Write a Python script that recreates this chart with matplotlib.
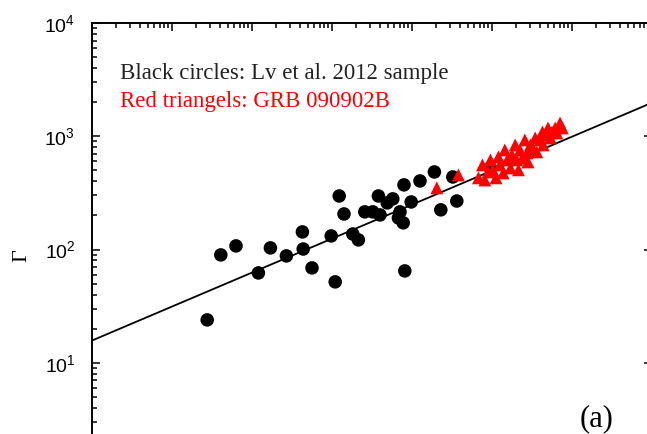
import numpy as np
import matplotlib
matplotlib.use("Agg")
import matplotlib.pyplot as plt
from matplotlib.ticker import LogLocator, NullFormatter, FuncFormatter

plt.rcParams['font.family'] = ['Liberation Sans', 'DejaVu Sans']
plt.rcParams['mathtext.fontset'] = 'custom'
plt.rcParams['mathtext.rm'] = 'Liberation Sans'
plt.rcParams['mathtext.it'] = 'Liberation Sans:italic'
plt.rcParams['mathtext.bf'] = 'Liberation Sans:bold'

# Lv et al. 2012 sample (black circles): log10 L_iso and Lorentz factor
lv_logL = [49.44, 49.61, 49.80, 50.08, 50.23, 50.43, 50.63, 50.64, 50.75, 50.99,
           51.04, 51.09, 51.15, 51.26, 51.33, 51.41, 51.51, 51.58, 51.60, 51.69,
           51.76, 51.85, 51.83, 51.89, 51.90, 51.99, 51.91, 52.10, 52.28, 52.36,
           52.56, 52.51, 52.98]
lv_gamma = [23.9, 89.6, 107.6, 62.1, 103.3, 87.8, 143, 101, 68.8, 131.8,
            51.8, 297, 206, 137, 121.6, 215, 215, 297, 202, 258,
            280, 215, 190, 172, 372, 263, 64.7, 403, 484, 224,
            268, 437, 525]

# GRB 090902B (red triangles)
grb_logL = [52.31, 52.58, 52.83, 52.88, 52.91, 52.95, 52.98, 53.01, 53.05, 53.08,
            53.10, 53.14, 53.16, 53.19, 53.23, 53.25, 53.29, 53.31, 53.33, 53.35,
            53.38, 53.41, 53.44, 53.45, 53.48, 53.51, 53.54, 53.56, 53.60, 53.63,
            53.64, 53.68, 53.70, 53.73, 53.75, 53.79, 53.81, 53.85, 53.88]
grb_gamma = [350, 455, 429, 558, 411, 484, 618, 505, 429, 657,
             558, 474, 757, 618, 525, 684, 838, 618, 505, 757,
             643, 927, 713, 593, 838, 788, 966, 727, 927, 1091,
             838, 1026, 1184, 966, 1091, 1184, 1069, 1310, 1184]

# Fit: Gamma = A * (L / 1e52)^B
fit_A = 249.0
fit_B = 0.30

x_min, x_max = 1e48, 1e55
y_min, y_max = 1e0, 1e4

fig = plt.figure(figsize=(6.47, 4.34), dpi=100)
W, H = 647, 434
left, right, top, bottom = 92, 652, 23, 476
ax = fig.add_axes([left / W, (H - bottom) / H, (right - left) / W, (bottom - top) / H])

ax.set_xscale('log')
ax.set_yscale('log')
ax.set_xlim(x_min, x_max)
ax.set_ylim(y_min, y_max)

Lfit = np.logspace(np.log10(x_min), np.log10(x_max), 200)
ax.plot(Lfit, fit_A * (Lfit / 1e52) ** fit_B, color='black', lw=1.3, zorder=2)

ax.scatter(10 ** np.array(lv_logL), lv_gamma, s=95, marker='o', color='black',
           edgecolors='none', zorder=3)
ax.scatter(10 ** np.array(grb_logL), grb_gamma, s=85, marker='^', color='#ff0000',
           edgecolors='none', zorder=4)

def ax_x(px):
    return (px - left) / (right - left)

def ax_y(py):
    return (bottom - py) / (bottom - top)

ax.text(ax_x(120), ax_y(73), 'Black circles: Lv et al. 2012 sample', transform=ax.transAxes,
        family='Liberation Serif', fontsize=16.5, color='#222222', va='center', ha='left')
ax.text(ax_x(120), ax_y(102), 'Red triangels: GRB 090902B', transform=ax.transAxes,
        family='Liberation Serif', fontsize=16.5, color='#ff0000', va='center', ha='left')
ax.text(ax_x(597), ax_y(426), '(a)', transform=ax.transAxes, family='Liberation Serif',
        fontsize=22, color='black', va='baseline', ha='center')

fig.text(22 / W, 1 - 256 / H, 'Γ', family='Liberation Serif', fontsize=16,
         rotation=90, ha='center', va='center')

ax.xaxis.set_major_locator(LogLocator(base=10, numticks=20))
ax.xaxis.set_minor_locator(LogLocator(base=10, subs=np.arange(2, 10), numticks=100))
ax.xaxis.set_minor_formatter(NullFormatter())
ax.yaxis.set_major_locator(LogLocator(base=10, numticks=20))
ax.yaxis.set_minor_locator(LogLocator(base=10, subs=np.arange(2, 10), numticks=100))
ax.yaxis.set_minor_formatter(NullFormatter())
ax.yaxis.set_major_formatter(FuncFormatter(
    lambda v, p: '' if v < 5 else r'$\mathregular{10^{%d}}$' % int(round(np.log10(v)))))

ax.tick_params(which='both', direction='in', top=True, right=True, width=1.1)
ax.tick_params(which='major', length=6)
ax.tick_params(which='minor', length=3.5)
ax.tick_params(axis='x', labelbottom=False)
ax.tick_params(axis='y', which='major', pad=12, labelsize=14)

for s in ax.spines.values():
    s.set_linewidth(1.4)

fig.savefig('out.png', dpi=100)
